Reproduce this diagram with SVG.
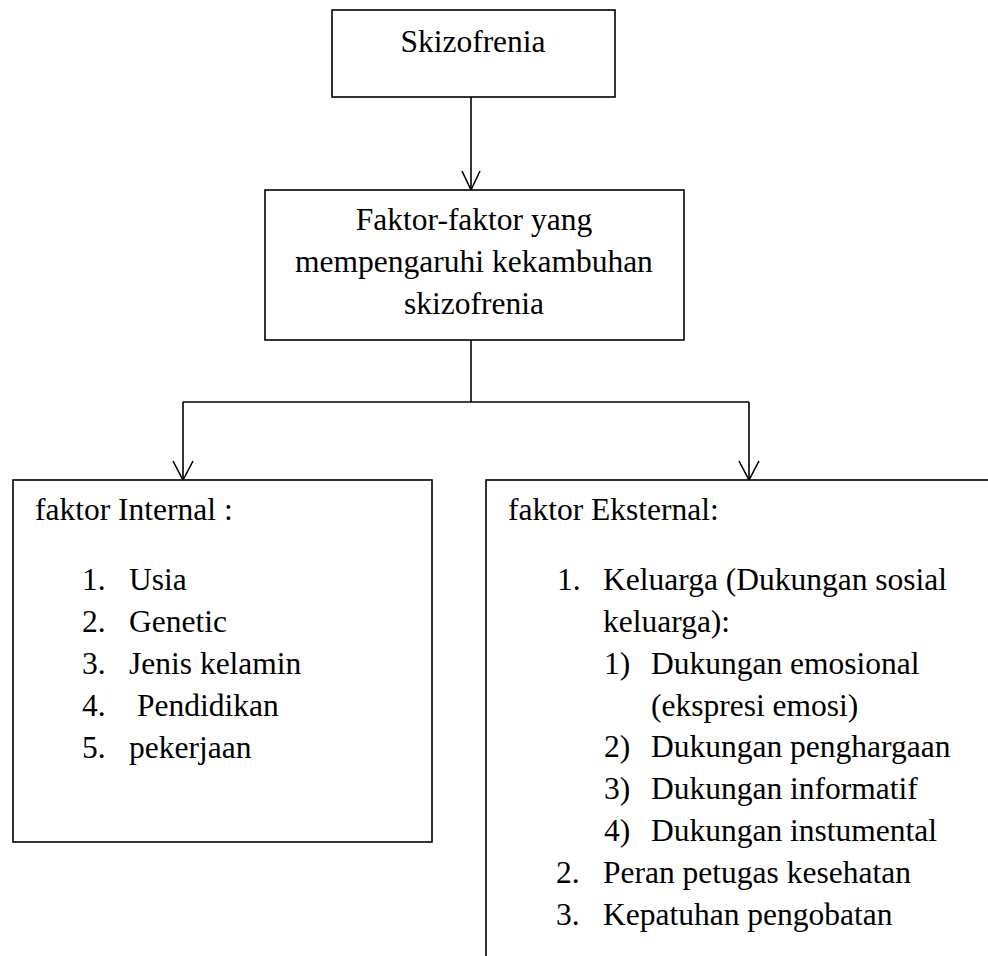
<svg xmlns="http://www.w3.org/2000/svg" width="988" height="956" viewBox="0 0 988 956">
<style>
.box{fill:#fff;stroke:#000;stroke-width:1.6}
.ln{fill:none;stroke:#000;stroke-width:1.6}
text{font-family:'Liberation Serif','Times New Roman',Tinos,Times,'Nimbus Roman','Nimbus Roman No9 L',FreeSerif,'Noto Serif','DejaVu Serif',serif;font-size:31.5px;fill:#000}
.c{text-anchor:middle}
</style>
<rect width="988" height="956" fill="#fff"/>
<g id="connectors">
<line class="ln" x1="471" y1="97" x2="471" y2="190"/>
<line class="ln" x1="471" y1="340" x2="471" y2="402"/>
<line class="ln" x1="183" y1="402" x2="749" y2="402"/>
<line class="ln" x1="183" y1="402" x2="183" y2="480"/>
<line class="ln" x1="749" y1="402" x2="749" y2="480"/>
<path class="ln" d="M462,171 L471,190 L480,171"/>
<path class="ln" d="M173,461 L183,480 L193,461"/>
<path class="ln" d="M739,461 L749,480 L759,461"/>
</g>
<g id="node-skizofrenia">
<rect class="box" x="332" y="10" width="283" height="87"/>
<text class="c" x="473" y="52">Skizofrenia</text>
</g>
<g id="node-faktor">
<rect class="box" x="265" y="190" width="419" height="150"/>
<text class="c" x="474" y="230">Faktor-faktor yang</text>
<text class="c" x="474" y="272">mempengaruhi kekambuhan</text>
<text class="c" x="474" y="314">skizofrenia</text>
</g>
<g id="node-internal">
<rect class="box" x="13" y="480" width="419" height="362"/>
<text x="35" y="520">faktor Internal :</text>
<text x="82" y="590">1.</text><text x="129" y="590">Usia</text>
<text x="82" y="632">2.</text><text x="129" y="632">Genetic</text>
<text x="82" y="674">3.</text><text x="129" y="674">Jenis kelamin</text>
<text x="82" y="716">4.</text><text x="137" y="716">Pendidikan</text>
<text x="82" y="758">5.</text><text x="129" y="758">pekerjaan</text>
</g>
<g id="node-eksternal">
<rect class="box" x="486" y="480" width="600" height="600"/>
<text x="508" y="520">faktor Eksternal:</text>
<text x="557" y="590">1.</text><text x="603" y="590">Keluarga (Dukungan sosial</text>
<text x="603" y="632">keluarga):</text>
<text x="604" y="674">1)</text><text x="651" y="674">Dukungan emosional</text>
<text x="651" y="716">(ekspresi emosi)</text>
<text x="604" y="757">2)</text><text x="651" y="757">Dukungan penghargaan</text>
<text x="604" y="799">3)</text><text x="651" y="799">Dukungan informatif</text>
<text x="604" y="841">4)</text><text x="651" y="841">Dukungan instumental</text>
<text x="556" y="883">2.</text><text x="603" y="883">Peran petugas kesehatan</text>
<text x="556" y="925">3.</text><text x="603" y="925">Kepatuhan pengobatan</text>
</g>
</svg>
